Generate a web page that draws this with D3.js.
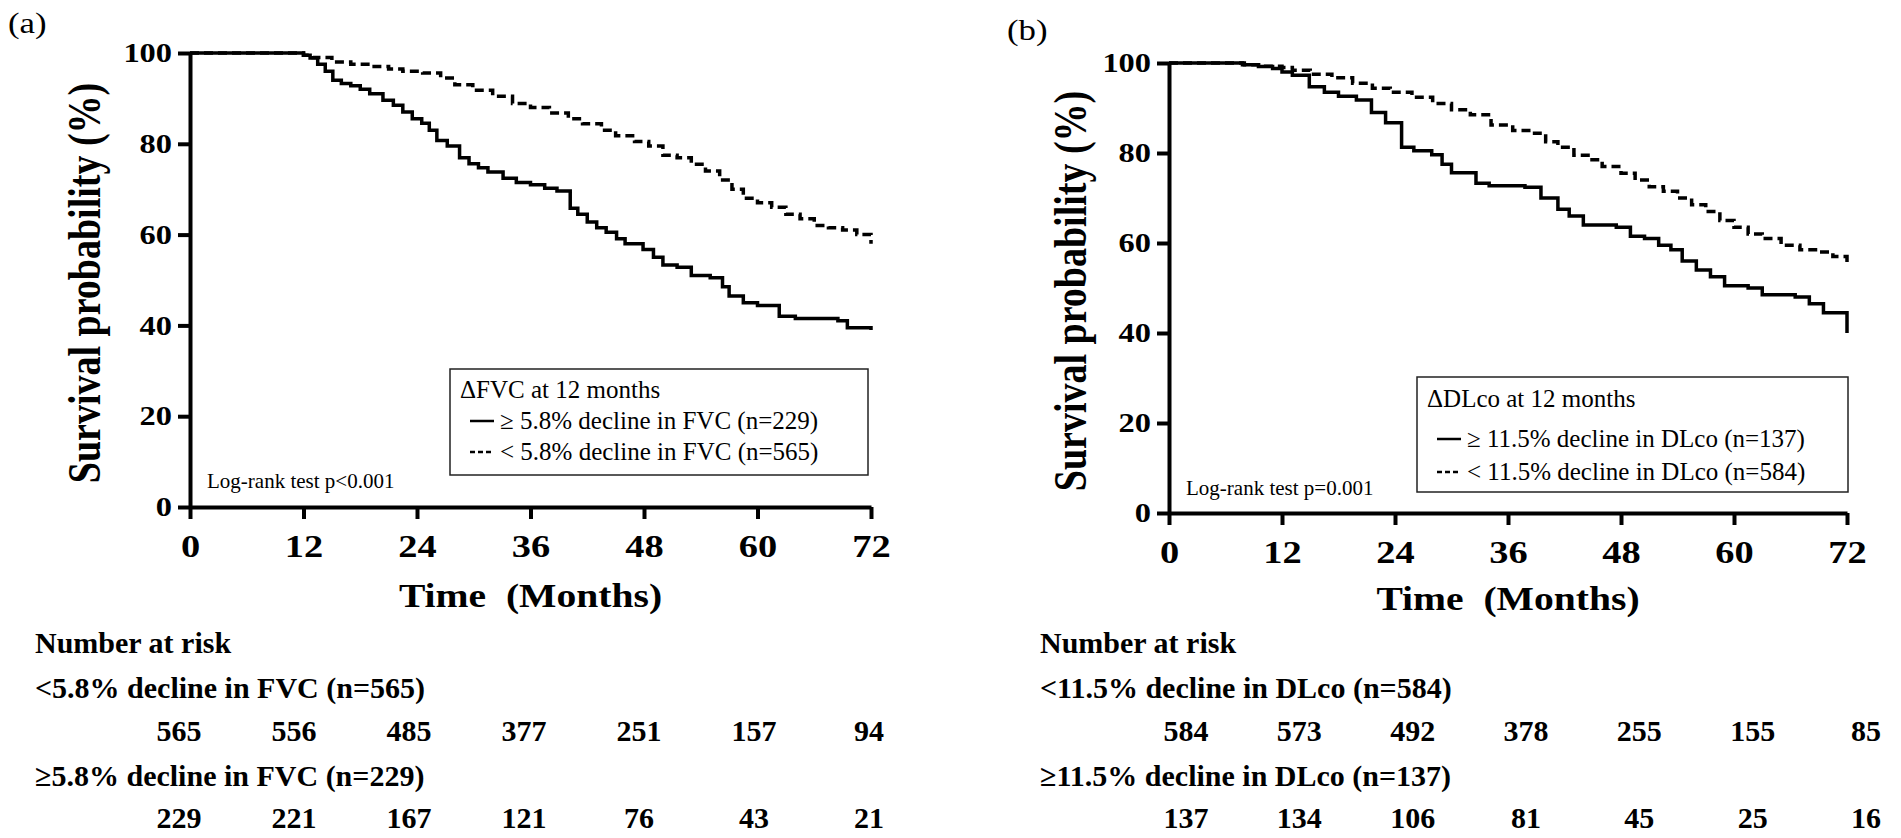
<!DOCTYPE html>
<html>
<head>
<meta charset="utf-8">
<script src="https://cdn.jsdelivr.net/npm/d3@7"></script>
<style>
  body { margin: 0; background: #fff; }
  text { font-family: "Liberation Serif", "Times New Roman", serif; fill: #000; }
</style>
</head>
<body>
<svg id="chart" width="1901" height="838"></svg>
<script>
// ---- data ----
const monthTicks = [0, 12, 24, 36, 48, 60, 72];
const survTicks = [0, 20, 40, 60, 80, 100];

// (a) FVC
const fvcDeclineT = [0, 12, 12.7, 13.5, 14.3, 15.1, 16, 17, 18, 19, 20.4, 21.5, 22.5, 23.5, 24.5, 25.3, 26.1, 27.2, 28.5, 29.5, 30.5, 31.5, 33.1, 34.5, 36, 37.5, 38.8, 40.2, 41, 42, 43, 44, 45.1, 46, 47.9, 49, 50, 51.5, 53, 55, 56.3, 57, 58.5, 60, 62.3, 64, 66, 68.5, 69.5, 72];
const fvcDeclineS = [100, 99.5, 98.9, 97.5, 96, 94, 93.3, 92.8, 92, 91, 89.6, 88.5, 87, 85.5, 84.5, 83, 80.7, 79.5, 76.9, 75.6, 74.7, 73.8, 72.4, 71.5, 71, 70.2, 69.6, 65.8, 64.5, 62.8, 61.5, 60.5, 59.1, 58, 56.7, 55, 53.3, 52.8, 51, 50.5, 48.5, 46.5, 45, 44.4, 42, 41.5, 41.5, 41, 39.5, 39];
const fvcStableT = [0, 12, 13, 15, 17, 19, 21, 22.5, 24.6, 26.5, 28, 29.9, 32, 34.1, 36, 38, 40, 41.5, 43.5, 45, 47, 48.5, 50, 51.5, 53, 54.5, 56, 57.3, 58.5, 60, 61.5, 63, 64.5, 66, 67.5, 69, 70.5, 72];
const fvcStableS = [100, 99.5, 99, 98, 97.5, 97, 96.5, 96, 95.6, 94.5, 93, 91.8, 90.5, 88.9, 88, 86.8, 85.5, 84.4, 83, 81.8, 80.5, 79.5, 77.5, 76.9, 75.5, 74, 72, 70, 68, 67, 66, 64.5, 63.5, 62, 61.5, 61, 60, 58];

// (b) DLco
const dlcoDeclineT = [0, 7.8, 9.5, 11, 12, 13.1, 14.9, 16.5, 18, 19.9, 21.5, 23, 24.7, 26, 27.9, 29, 30, 32.6, 34, 37.8, 39.5, 41.3, 42.5, 44, 47.5, 49, 50.5, 52, 53.3, 54.5, 56, 57.5, 59, 61.5, 63, 66.5, 68, 69.5, 72];
const dlcoDeclineS = [100, 99.6, 99.2, 98.8, 98, 97.3, 94.7, 93.5, 92.6, 91.8, 89, 86.7, 81.3, 80.5, 79.6, 77.5, 75.6, 73.3, 72.7, 72.4, 70, 67.5, 66, 64, 63.5, 61.5, 61, 59.5, 58.5, 56, 54, 52.5, 50.5, 50, 48.5, 48, 46.5, 44.5, 40];
const dlcoStableT = [0, 8, 10, 12, 13.1, 15, 17.3, 19.5, 21.6, 23.5, 25.8, 28, 30, 32, 34.2, 36.5, 38.5, 40, 41.3, 43, 44.5, 46, 48, 49.5, 51, 52.5, 54, 55.5, 57, 58.5, 60, 61.5, 63, 65, 67, 69, 70.5, 72];
const dlcoStableS = [100, 99.6, 99.3, 99, 98.4, 97.5, 96.7, 95.5, 94.4, 93.5, 92.4, 91, 89.6, 88.5, 86.2, 85, 84.4, 82.5, 81.3, 79.5, 78.5, 77, 75.5, 74, 72.5, 71.5, 70, 68.5, 67, 65, 63.5, 62, 61, 59.5, 58.5, 58, 57, 55.5];

// number at risk
const fvcStableRisk = [565, 556, 485, 377, 251, 157, 94];
const fvcDeclineRisk = [229, 221, 167, 121, 76, 43, 21];
const dlcoStableRisk = [584, 573, 492, 378, 255, 155, 85];
const dlcoDeclineRisk = [137, 134, 106, 81, 45, 25, 16];

const SX = 1.2; // the plotted part of the figure is stretched sideways

const panels = [
  {
    tag: '(a)', tagX: 8, tagY: 33,
    xr: [190, 871], yr: [507, 53], titleOff: 90, timeY: 607,
    decline: [fvcDeclineT, fvcDeclineS], stable: [fvcStableT, fvcStableS],
    legend: { x: 450, y: 369, w: 418, h: 106, title: '\u0394FVC at 12 months',
      items: ['\u2265 5.8% decline in FVC (n=229)', '< 5.8% decline in FVC (n=565)'],
      rows: [29, 60, 91] },
    logrank: 'Log-rank test p<0.001', lrX: 207, lrY: 488,
    table: { x: 35, cols: [179, 869], head: 'Number at risk',
      l1: '<5.8% decline in FVC (n=565)', l2: '\u22655.8% decline in FVC (n=229)',
      r1: fvcStableRisk, r2: fvcDeclineRisk }
  },
  {
    tag: '(b)', tagX: 1007, tagY: 40,
    xr: [1169, 1847], yr: [513, 63], titleOff: 83, timeY: 610,
    decline: [dlcoDeclineT, dlcoDeclineS], stable: [dlcoStableT, dlcoStableS],
    legend: { x: 1417, y: 377, w: 431, h: 115, title: '\u0394DLco at 12 months',
      items: ['\u2265 11.5% decline in DLco (n=137)', '< 11.5% decline in DLco (n=584)'],
      rows: [30, 70, 103] },
    logrank: 'Log-rank test p=0.001', lrX: 1186, lrY: 495,
    table: { x: 1040, cols: [1186, 1866], head: 'Number at risk',
      l1: '<11.5% decline in DLco (n=584)', l2: '\u226511.5% decline in DLco (n=137)',
      r1: dlcoStableRisk, r2: dlcoDeclineRisk }
  }
];

const svg = d3.select('#chart');
svg.append('rect').attr('width', 1901).attr('height', 838).attr('fill', '#fff');

const rowY = [653, 698, 741, 786, 828];

// stretched label placed at (x, y)
function wideText(g, x, y, size, str, anchor) {
  return g.append('text')
    .attr('transform', `translate(${x},${y}) scale(${SX},1)`)
    .attr('text-anchor', anchor || 'start')
    .style('font-size', size + 'px').style('font-weight', 'bold')
    .text(str);
}

panels.forEach(p => {
  const x = d3.scaleLinear().domain([0, 72]).range(p.xr);
  const y = d3.scaleLinear().domain([0, 100]).range(p.yr);
  const g = svg.append('g');

  wideText(g, p.tagX, p.tagY, 29, p.tag).style('font-weight', 'normal');

  // axes
  const yAxis = g.append('g')
    .attr('transform', `translate(${p.xr[0]},0)`)
    .call(d3.axisLeft(y).tickValues(survTicks).tickSize(12).tickSizeOuter(0).tickPadding(3));
  yAxis.selectAll('text')
    .attr('transform', `scale(${SX},1)`)
    .style('font-size', '27px').style('font-weight', 'bold')
    .style('font-family', '"Liberation Serif", serif');

  const xAxis = g.append('g')
    .attr('transform', `translate(0,${p.yr[0]})`)
    .call(d3.axisBottom(x).tickValues(monthTicks).tickSize(12).tickSizeOuter(0).tickPadding(15));
  xAxis.selectAll('text')
    .attr('transform', `scale(${SX},1)`)
    .style('font-size', '32px').style('font-weight', 'bold')
    .style('font-family', '"Liberation Serif", serif');

  g.selectAll('.domain, .tick line').attr('stroke', '#000').attr('stroke-width', 4);

  // axis titles
  const ymid = (p.yr[0] + p.yr[1]) / 2 + 3;
  g.append('text')
    .attr('transform', `translate(${p.xr[0] - p.titleOff},${ymid}) rotate(-90) scale(1,${SX})`)
    .attr('text-anchor', 'middle')
    .style('font-size', '38px').style('font-weight', 'bold')
    .text('Survival probability (%)');

  wideText(g, (p.xr[0] + p.xr[1]) / 2, p.timeY, 33, 'Time\u00a0\u00a0(Months)', 'middle');

  // curves
  const line = d3.line().curve(d3.curveStepAfter)
    .x(d => x(d[0])).y(d => y(d[1]));
  const pairs = arr => arr[0].map((t, i) => [t, arr[1][i]]);

  g.append('path').datum(pairs(p.stable))
    .attr('d', line).attr('fill', 'none').attr('stroke', '#000')
    .attr('stroke-width', 3.5).attr('stroke-dasharray', '9,5');
  g.append('path').datum(pairs(p.decline))
    .attr('d', line).attr('fill', 'none').attr('stroke', '#000')
    .attr('stroke-width', 3.5);

  // legend
  const L = p.legend;
  const lg = g.append('g').attr('transform', `translate(${L.x},${L.y})`);
  lg.append('rect').attr('width', L.w).attr('height', L.h)
    .attr('fill', '#fff').attr('stroke', '#222').attr('stroke-width', 1.5);
  lg.append('text').attr('x', 10).attr('y', L.rows[0])
    .style('font-size', '25px').text(L.title);
  L.items.forEach((txt, i) => {
    const ly = L.rows[i + 1];
    lg.append('line').attr('x1', 20).attr('x2', 44).attr('y1', ly - 8).attr('y2', ly - 8)
      .attr('stroke', '#000').attr('stroke-width', 2.5)
      .attr('stroke-dasharray', i === 1 ? '5,3' : null);
    lg.append('text').attr('x', 50).attr('y', ly)
      .style('font-size', '25px').text(txt);
  });

  g.append('text').attr('x', p.lrX).attr('y', p.lrY)
    .style('font-size', '21px').text(p.logrank);

  // number at risk table
  const T = p.table;
  const col = d3.scaleLinear().domain([0, 72]).range(T.cols);
  const bold = sel => sel.style('font-size', '30px').style('font-weight', 'bold');
  bold(g.append('text').attr('x', T.x).attr('y', rowY[0]).text(T.head));
  bold(g.append('text').attr('x', T.x).attr('y', rowY[1]).text(T.l1));
  bold(g.append('text').attr('x', T.x).attr('y', rowY[3]).text(T.l2));
  [[T.r1, rowY[2]], [T.r2, rowY[4]]].forEach(([vals, yy]) => {
    g.selectAll(null).data(vals).enter().append('text')
      .attr('x', (d, i) => col(monthTicks[i])).attr('y', yy)
      .attr('text-anchor', 'middle')
      .style('font-size', '30px').style('font-weight', 'bold')
      .text(d => d);
  });
});
</script>
</body>
</html>
